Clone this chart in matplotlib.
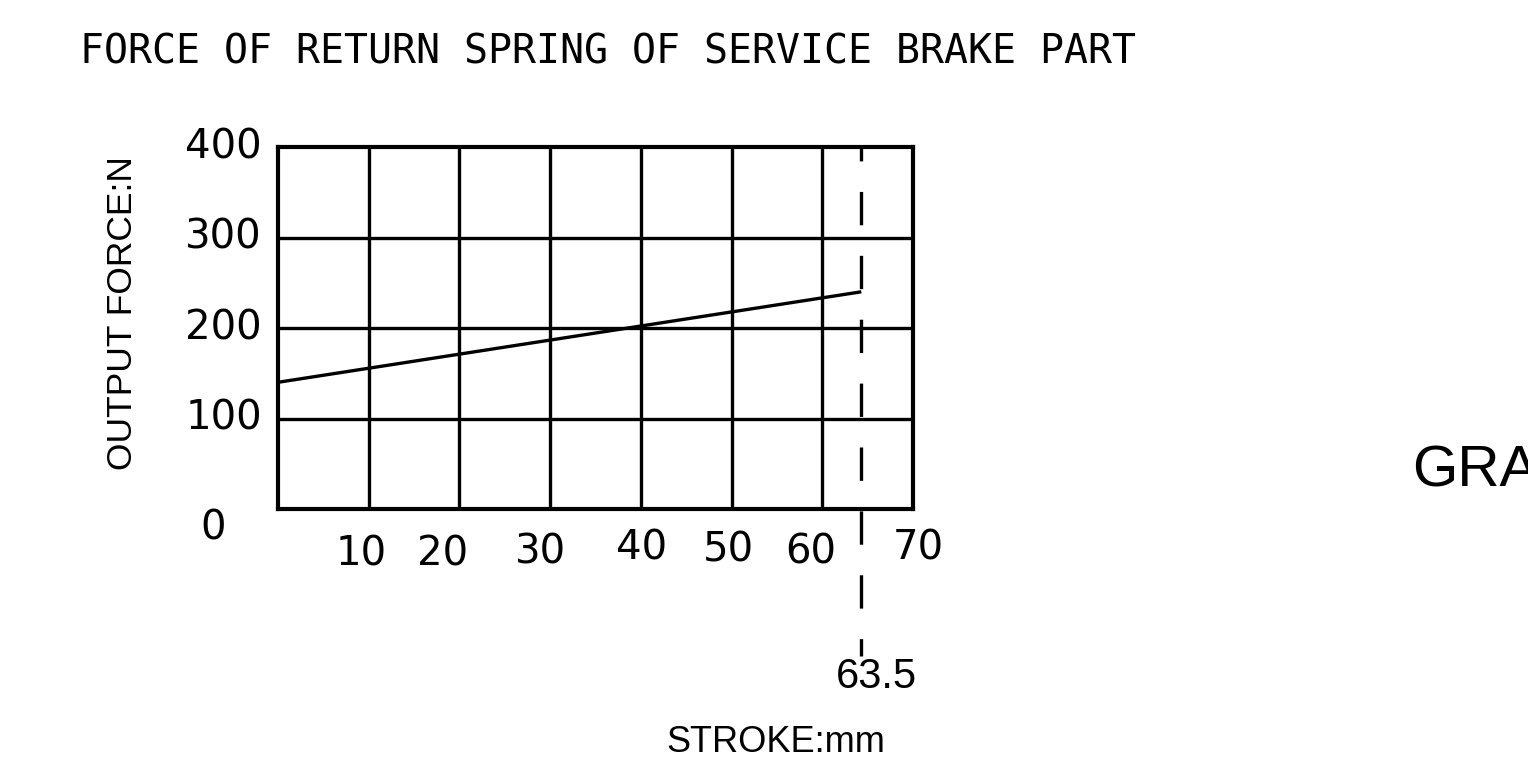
import matplotlib
matplotlib.use("Agg")
import matplotlib.pyplot as plt
from matplotlib.transforms import offset_copy

# data
stroke = [0, 64.3]          # mm
force = [140, 240]          # N
stroke_end = 64.3
stroke_end_label = "63.5"
x_ticks = [10, 20, 30, 40, 50, 60, 70]
y_ticks = [100, 200, 300, 400]

# CAD drawing labels are not aligned: pixel offsets for each x label
x_lab_dx = [-8, -17, -10, 1, -3, -12, 5]
x_lab_dy = [-45, -46, -43, -40, -41, -44, -40]

plt.rcParams['lines.scale_dashes'] = False
W, H = 1528, 764
fig = plt.figure(figsize=(W / 100, H / 100), dpi=100)
ax = fig.add_axes([278 / W, (H - 509) / H, 635 / W, 362 / H])
ax.set_xlim(0, 70)
ax.set_ylim(0, 400)
ax.set_xticks(x_ticks[:-1])
ax.set_yticks(y_ticks[:-1])
ax.tick_params(length=0, labelbottom=False, labelleft=False)
ax.grid(True, color='black', lw=2.4)
for s in ax.spines.values():
    s.set_linewidth(3)
    s.set_color('black')

ax.plot(stroke, force, color='black', lw=2.4, solid_capstyle='butt')
# dashed marker for stroke end, runs down to its label
ax.plot([stroke_end, stroke_end], [400, -162], color='black', lw=2.4,
        linestyle=(14, (24, 22)), clip_on=False)

num_font = dict(family='DejaVu Sans', fontsize=29, color='black')
for x, dx, dy in zip(x_ticks, x_lab_dx, x_lab_dy):
    tr = offset_copy(ax.transData, fig=fig, x=dx, y=dy, units='dots')
    ax.text(x, 0, str(x), transform=tr, ha='center', va='center', **num_font)
for y in y_ticks:
    tr = offset_copy(ax.transData, fig=fig, x=-16, y=0, units='dots')
    ax.text(0, y, str(y), transform=tr, ha='right', va='center', **num_font)
tr = offset_copy(ax.transData, fig=fig, x=-65, y=-19, units='dots')
ax.text(0, 0, "0", transform=tr, ha='center', va='center', **num_font)

lab_font = dict(family='Liberation Sans', color='black')
tr = offset_copy(ax.transData, fig=fig, x=15, y=-168, units='dots')
ax.text(stroke_end, 0, stroke_end_label, transform=tr, ha='center',
        va='center', fontsize=30, **lab_font)

fig.text(80 / W, 1 - 52 / H, "FORCE OF RETURN SPRING OF SERVICE BRAKE PART",
         ha='left', va='center', fontsize=28.7, family='DejaVu Sans Mono',
         color='black')
fig.text(122 / W, 1 - 313 / H, "OUTPUT FORCE:N", rotation=90,
         ha='center', va='center', fontsize=25.5, **lab_font)
fig.text(776 / W, 1 - 742 / H, "STROKE:mm", ha='center', va='center',
         fontsize=26, **lab_font)
fig.text(1412 / W, 1 - 471 / H, "GRAPH", ha='left', va='center',
         fontsize=42, **lab_font)

fig.savefig("out.png", dpi=100, facecolor='white')
